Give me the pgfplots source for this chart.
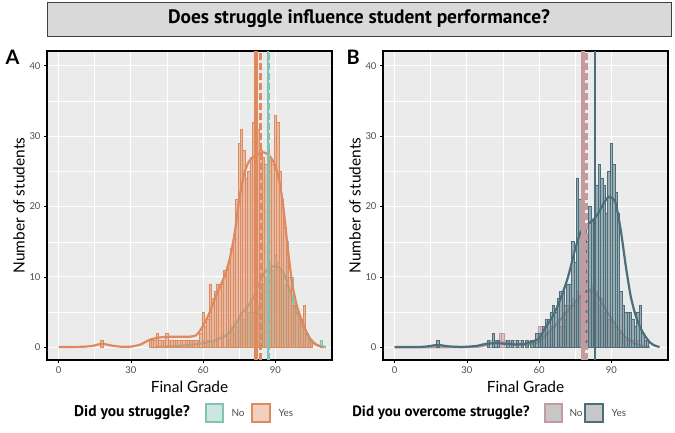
\documentclass[border=0pt]{standalone}
\usepackage{pgfplots}
\pgfplotsset{compat=1.18}
\usepackage{fontspec}
\setmainfont{Lato}
\newfontfamily\titlefont{PT Sans}
\definecolor{cOr}{HTML}{DE8A5E}
\definecolor{cTe}{HTML}{7FC4B2}
\definecolor{cPk}{HTML}{C49A9E}
\definecolor{cDk}{HTML}{4A6F7B}
\definecolor{bgc}{HTML}{EBEBEB}
\definecolor{tickc}{HTML}{4D4D4D}
\definecolor{titlebg}{HTML}{D9D9D9}

\pgfplotsset{panel/.style={
 scale only axis, width=285bp, height=309bp, anchor=south west,
 xmin=-4.8, xmax=113.5, ymin=-1.8, ymax=42.1,
 axis background/.style={fill=bgc},
 xtick={0,30,60,90}, ytick={0,10,20,30,40},
 minor x tick num=1, minor y tick num=1,
 grid=both, major grid style={white, line width=1bp}, minor grid style={white, line width=0.5bp},
 axis line style={black, line width=1.3bp},
 tick pos=left, tick align=outside, major tick length=3bp, minor tick length=0pt,
 tick style={black, line width=0.6bp},
 ticklabel style={font=\fontsize{9.5}{10}\selectfont, text=tickc},
 /pgf/number format/assume math mode=true,
 xlabel={Final Grade}, ylabel={Number of students},
 label style={font=\fontsize{15.5}{16}\selectfont},
 xlabel style={yshift=-1bp},
 ylabel style={yshift=-2bp},
}}
\pgfplotsset{
 barsA/.style={ybar, bar width=1, bar shift=0pt, draw=#1, fill=#1, fill opacity=0.5, line width=0.8bp},
 dens/.style={#1, line width=2.2bp, smooth, tension=0.4},
}

\begin{document}
\begin{tikzpicture}
\useasboundingbox (0,0) rectangle (675bp,-433bp);
% title
\draw[fill=titlebg, draw=black!75, line width=1bp] (47bp,-2bp) rectangle (671bp,-36bp);
\node[font=\titlefont\bfseries\fontsize{19.5}{20}\selectfont] at (359bp,-18.5bp) {Does struggle influence student performance?};
% panel labels
\node[font=\bfseries\fontsize{20}{21}\selectfont, anchor=west] at (2bp,-57bp) {A};
\node[font=\bfseries\fontsize{20}{21}\selectfont, anchor=west] at (343bp,-57bp) {B};

% ---------------- Panel A ----------------
\begin{axis}[panel, at={(47bp,-360bp)}]
\addplot[dens=cTe] coordinates {(40,0.05)(50,0.2)(55,0.35)(60,0.6)(65,1.0)(70,1.8)(73,3)(76,4.8)(79,6)(81,7.2)(83,8.9)(85,10.3)(87,11.2)(89,11.5)(91,11.4)(93,10.8)(95,9.2)(97,7)(99,5)(101,3.4)(103,2)(105,1)(107,0.4)(109,0.15)(111,0.05)};
\addplot[barsA=cTe] coordinates {(55,1)(58,1)(60,1)(62,1)(64,1)(66,1)(68,2)(70,2)(71,1)(72,3)(73,2)(74,3)(75,4)(76,5)(77,4)(78,6)(79,5)(80,6)(81,5)(82,7)(83,6)(84,8)(85,9)(86,10)(87,8)(88,12)(89,11)(90,13)(91,12)(92,11)(93,10)(94,9)(95,15)(96,8)(97,10)(98,6)(99,5)(100,4)(101,3)(102,2)(103,2)(104,1)(105,1)(109,1)};
\addplot[barsA=cOr] coordinates {(18,1)(38,1)(39,1)(40,1)(41,2)(42,1)(43,1)(44,1)(45,2)(46,1)(47,1)(48,1)(49,1)(50,1)(51,1)(52,1)(53,1)(54,1)(55,1)(56,1)(57,1)(58,1)(59,2)(60,5)(61,3)(62,4)(63,9)(64,7)(65,8)(66,9)(67,9)(68,9)(69,11)(70,11)(71,12)(72,14)(73,16)(74,21)(75,29)(76,31)(77,28)(78,24)(79,25)(80,27)(81,32)(82,29)(83,31)(84,28)(85,27)(86,26)(87,28)(88,27)(89,26)(90,33)(91,32)(92,25)(93,21)(94,17)(95,13)(96,10)(97,6)(98,6)(99,5)(100,4)(101,4)(102,6)(103,2)(104,1)(105,1)};
\addplot[dens=cOr] coordinates {(0,0.05)(5,0.05)(10,0.08)(14,0.2)(18,0.5)(22,0.25)(26,0.08)(30,0.1)(34,0.4)(38,1.1)(42,1.4)(46,1.5)(50,1.5)(54,1.5)(57,1.7)(59,2.5)(61,3.7)(63,5.2)(65,7)(67,8.6)(69,10.2)(71,12.5)(73,16)(75,21)(77,24.6)(79,26.4)(81,27.1)(83,27.5)(85,27.7)(87,27.4)(89,26.5)(91,24.6)(93,20.8)(95,14.5)(97,9)(99,5.8)(101,3.8)(103,2.1)(105,0.9)(107,0.35)(109,0.1)(110,0.05)};
\addplot[cOr, line width=3.5bp] coordinates {(82,-1.8)(82,42.1)};
\addplot[cOr, line width=3bp, dash pattern=on 7bp off 3bp] coordinates {(83.7,-1.8)(83.7,42.1)};
\addplot[cTe, line width=2bp] coordinates {(86.9,-1.8)(86.9,42.1)};
\addplot[cTe, line width=3.5bp, dash pattern=on 7bp off 3bp] coordinates {(87.2,-1.8)(87.2,42.1)};
\end{axis}

% ---------------- Panel B ----------------
\begin{axis}[panel, at={(383bp,-360bp)}]
\addplot[dens=cPk] coordinates {(0,0.02)(20,0.02)(35,0.1)(40,0.5)(44,0.8)(48,0.6)(52,0.4)(56,0.4)(60,0.8)(63,1.8)(66,2.8)(69,4)(72,5.2)(75,6.4)(78,7.6)(80,8.2)(82,8.1)(84,7.5)(86,6.3)(88,5.2)(90,4.1)(92,3)(94,2.2)(96,1.4)(98,0.9)(100,0.5)(102,0.25)(104,0.1)(106,0.03)};
\addplot[barsA=cPk] coordinates {(40,1)(44,2)(45,2)(46,1)(48,1)(50,1)(52,1)(55,1)(58,1)(60,3)(61,3)(62,2)(64,2)(65,3)(66,3)(68,4)(69,3)(70,5)(71,4)(72,6)(73,5)(74,7)(75,6)(76,8)(77,7)(78,9)(79,8)(80,10)(81,8)(82,9)(83,7)(84,8)(85,6)(86,7)(87,5)(88,5)(89,4)(90,4)(91,3)(92,3)(93,2)(94,2)(95,2)(96,1)(97,1)(99,1)(101,1)};
\addplot[barsA=cDk] coordinates {(18,1)(39,1)(41,2)(42,1)(43,1)(47,1)(49,1)(51,1)(53,1)(55,1)(57,1)(58,1)(59,2)(60,2)(61,2)(62,3)(63,4)(64,4)(65,5)(66,6)(67,5)(68,7)(69,8)(70,8)(71,6)(72,9)(73,9)(74,15)(75,12)(76,24)(77,21)(78,18)(79,17)(80,15)(81,20)(82,18)(83,17)(84,23)(85,26)(86,24)(87,23)(88,19)(89,25)(90,29)(91,26)(92,22)(93,19)(94,8)(95,6)(96,5)(97,5)(98,5)(99,4)(100,3)(101,5)(102,6)(103,2)(104,1)(105,1)};
\addplot[dens=cDk] coordinates {(0,0.05)(10,0.05)(14,0.15)(18,0.35)(22,0.15)(28,0.05)(34,0.2)(38,0.5)(42,0.6)(46,0.5)(50,0.4)(54,0.5)(57,0.8)(60,1.3)(63,3)(66,4.6)(69,7)(72,10)(75,14)(77,16.2)(79,17.2)(81,17.7)(83,18.3)(85,19.3)(87,20.6)(89,21.4)(91,21)(92,20.2)(94,16.4)(96,11.5)(98,7.3)(100,4.6)(102,2.8)(104,1.6)(106,0.7)(108,0.25)(110,0.05)};
\addplot[cPk, line width=3.5bp] coordinates {(78.2,-1.8)(78.2,42.1)};
\addplot[cPk, line width=3bp, dash pattern=on 7bp off 3bp] coordinates {(79.6,-1.8)(79.6,42.1)};
\addplot[cDk, line width=2bp] coordinates {(83.1,-1.8)(83.1,42.1)};
\end{axis}

% ---------------- Legends ----------------
\node[font=\titlefont\bfseries\fontsize{15.5}{16}\selectfont] at (132bp,-413bp) {Did you struggle?};
\draw[draw=cTe, fill=cTe!40, line width=1.5bp] (206bp,-404bp) rectangle (223bp,-422bp);
\node[font=\fontsize{10}{11}\selectfont, text=tickc, anchor=west] at (228bp,-413bp) {No};
\draw[draw=cOr, fill=cOr!40, line width=1.5bp] (252bp,-404bp) rectangle (270bp,-422bp);
\node[font=\fontsize{10}{11}\selectfont, text=tickc, anchor=west] at (275bp,-413bp) {Yes};

\node[font=\titlefont\bfseries\fontsize{15}{16}\selectfont] at (441bp,-413bp) {Did you overcome struggle?};
\draw[draw=cPk, fill=black!22, line width=1.5bp] (545bp,-404bp) rectangle (562bp,-422bp);
\node[font=\fontsize{10}{11}\selectfont, text=tickc, anchor=west] at (566bp,-413bp) {No};
\draw[draw=cDk, fill=black!22, line width=1.5bp] (585bp,-404bp) rectangle (603bp,-422bp);
\node[font=\fontsize{10}{11}\selectfont, text=tickc, anchor=west] at (608bp,-413bp) {Yes};
\end{tikzpicture}
\end{document}
